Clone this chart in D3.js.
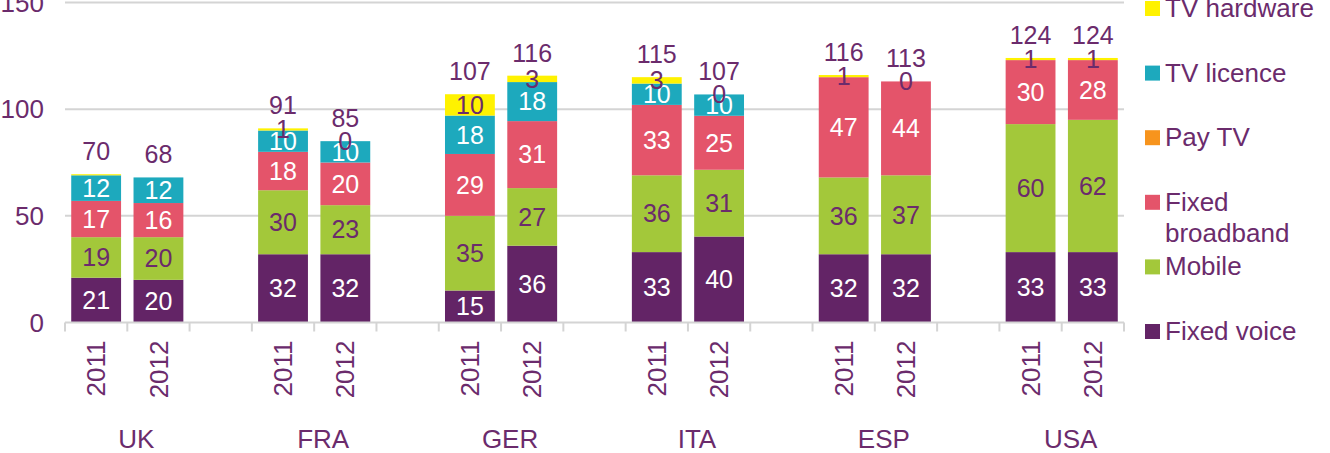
<!DOCTYPE html>
<html>
<head>
<meta charset="utf-8">
<script src="https://cdn.jsdelivr.net/npm/d3@7"></script>
<style>
  body { margin: 0; background: #fff; }
  svg { display: block; font-family: "Liberation Sans", Arial, sans-serif; }
</style>
</head>
<body>
<div id="chart"></div>
<script>
// Chart data
const countries = ['UK', 'FRA', 'GER', 'ITA', 'ESP', 'USA'];
const years = ['2011', '2012'];
const series_names = ['Fixed voice', 'Mobile', 'Fixed broadband', 'Pay TV', 'TV licence', 'TV hardware'];

// one value per bar: UK 2011, UK 2012, FRA 2011, ... USA 2012
const fixed_voice     = [21, 20, 32, 32, 15, 36, 33, 40.3, 32, 32, 33, 33];
const mobile          = [19, 20, 30, 23, 35, 27, 36, 31.3, 36, 37, 60, 62];
const fixed_broadband = [17, 16, 18, 20, 29, 31.4, 33, 25.3, 47, 44, 30, 28];
const pay_tv          = [0, 0, 0, 0, 0, 0, 0, 0, 0, 0, 0, 0];
const tv_licence      = [12, 12, 10, 10, 18, 18.3, 10, 10, 0, 0, 0, 0];
const tv_hardware     = [0.5, 0, 1, 0, 10, 3, 3, 0, 1, 0, 1, 1];
const hardware_labels = ['', '', '1', '0', '10', '3', '3', '0', '1', '0', '1', '1'];
const totals          = [70, 68, 91, 85, 107, 116, 115, 107, 116, 113, 124, 124];

const y_ticks = [0, 50, 100, 150];

// Constants for the look of the chart
const C = {
  width: 1330,
  height: 453,
  plot: {left: 65, right: 1124, top: 2.5, bottom: 322.5},
  font_size: 26,
  label_size: 25,
  text_color: '#6b2b6c',
  grid_color: '#d4d4d4',
  colors: {
    'Fixed voice': '#632466',
    'Mobile': '#a3c83a',
    'Fixed broadband': '#e4546a',
    'Pay TV': '#f7941d',
    'TV licence': '#1da9bd',
    'TV hardware': '#fff200',
  },
  label_colors: {
    'Fixed voice': '#ffffff',
    'Mobile': '#6b2b6c',
    'Fixed broadband': '#ffffff',
    'Pay TV': '#ffffff',
    'TV licence': '#ffffff',
    'TV hardware': '#6b2b6c',
  },
  legend: {x: 1145, first_baseline: 17, step: 64.6, box: 15},
  country_offset: 9,
};

const series_values = {
  'Fixed voice': fixed_voice,
  'Mobile': mobile,
  'Fixed broadband': fixed_broadband,
  'Pay TV': pay_tv,
  'TV licence': tv_licence,
  'TV hardware': tv_hardware,
};

// Build rows for the stack: one per bar
const rows = [];
countries.forEach((country, ci) => {
  years.forEach((year, yi) => {
    const i = ci * 2 + yi;
    const row = {key: country + '|' + year, country, year, i, total: totals[i]};
    series_names.forEach(s => { row[s] = series_values[s][i]; });
    rows.push(row);
  });
});

// Category slots, with an empty slot between countries
const slots = [];
countries.forEach((country, ci) => {
  years.forEach(year => slots.push(country + '|' + year));
  if (ci < countries.length - 1) slots.push(country + '|gap');
});

const X = d3.scaleBand()
  .domain(slots)
  .range([C.plot.left, C.plot.right])
  .paddingInner(0.2)
  .paddingOuter(0.1);

const Y = d3.scaleLinear()
  .domain([0, 150])
  .range([C.plot.bottom, C.plot.top]);

const stacked = d3.stack().keys(series_names)(rows);

const svg = d3.select('#chart').append('svg')
  .attr('width', C.width)
  .attr('height', C.height);

// Gridlines
svg.append('g')
  .selectAll('line')
  .data(y_ticks.filter(d => d > 0))
  .join('line')
  .attr('x1', C.plot.left)
  .attr('x2', C.plot.right)
  .attr('y1', d => Y(d))
  .attr('y2', d => Y(d))
  .attr('stroke', C.grid_color)
  .attr('stroke-width', 2);

// Y axis labels
svg.append('g')
  .selectAll('text')
  .data(y_ticks)
  .join('text')
  .attr('x', C.plot.left - 21)
  .attr('y', d => Y(d))
  .attr('dy', '0.35em')
  .attr('text-anchor', 'end')
  .attr('font-size', C.font_size)
  .attr('fill', C.text_color)
  .text(d => d);

// Stacked bars
const layers = svg.append('g')
  .selectAll('g')
  .data(stacked)
  .join('g')
  .attr('fill', d => C.colors[d.key]);

layers.selectAll('rect')
  .data(d => d)
  .join('rect')
  .attr('x', d => X(d.data.key))
  .attr('width', X.bandwidth())
  .attr('y', d => Y(d[1]))
  .attr('height', d => Y(d[0]) - Y(d[1]));

// X axis line and ticks at slot boundaries
const step = X.step();
const boundaries = slots.map(s => X(s) - step * X.paddingOuter());
boundaries.push(C.plot.right);

const axis = svg.append('g');
axis.append('line')
  .attr('x1', C.plot.left)
  .attr('x2', C.plot.right)
  .attr('y1', Y(0))
  .attr('y2', Y(0))
  .attr('stroke', C.grid_color)
  .attr('stroke-width', 2);

axis.selectAll('line.tick')
  .data(boundaries)
  .join('line')
  .attr('class', 'tick')
  .attr('x1', d => d)
  .attr('x2', d => d)
  .attr('y1', Y(0))
  .attr('y2', Y(0) + 9)
  .attr('stroke', C.grid_color)
  .attr('stroke-width', 2);

// Segment labels (hardware labels handled separately)
const inner_series = ['Fixed voice', 'Mobile', 'Fixed broadband', 'TV licence'];
const labels = svg.append('g')
  .attr('font-size', C.label_size)
  .attr('text-anchor', 'middle');

stacked.filter(layer => inner_series.includes(layer.key)).forEach(layer => {
  labels.append('g')
    .selectAll('text')
    .data(layer.filter(d => d[1] - d[0] > 0))
    .join('text')
    .attr('x', d => X(d.data.key) + X.bandwidth() / 2)
    .attr('y', d => Y((d[0] + d[1]) / 2))
    .attr('dy', '0.35em')
    .attr('fill', C.label_colors[layer.key])
    .text(d => Math.round(d[1] - d[0]));
});

const hardware_layer = stacked.find(layer => layer.key === 'TV hardware');
labels.append('g')
  .selectAll('text')
  .data(hardware_layer.filter(d => hardware_labels[d.data.i] !== ''))
  .join('text')
  .attr('x', d => X(d.data.key) + X.bandwidth() / 2)
  .attr('y', d => Y((d[0] + d[1]) / 2))
  .attr('dy', '0.35em')
  .attr('fill', C.label_colors['TV hardware'])
  .text(d => hardware_labels[d.data.i]);

// Totals above each bar
svg.append('g')
  .selectAll('text')
  .data(rows)
  .join('text')
  .attr('x', d => X(d.key) + X.bandwidth() / 2)
  .attr('y', d => Y(d3.sum(series_names, s => d[s])) - 14)
  .attr('text-anchor', 'middle')
  .attr('font-size', C.label_size)
  .attr('fill', C.text_color)
  .text(d => d.total);

// Year labels, rotated
svg.append('g')
  .selectAll('text')
  .data(rows)
  .join('text')
  .attr('transform', d => `translate(${X(d.key) + X.bandwidth() / 2},${Y(0) + 18}) rotate(-90)`)
  .attr('dy', '0.35em')
  .attr('text-anchor', 'end')
  .attr('font-size', C.font_size)
  .attr('fill', C.text_color)
  .text(d => d.year);

// Country labels
svg.append('g')
  .selectAll('text')
  .data(countries)
  .join('text')
  .attr('x', d => (X(d + '|2011') + X(d + '|2012') + X.bandwidth()) / 2 + C.country_offset)
  .attr('y', 448)
  .attr('text-anchor', 'middle')
  .attr('font-size', C.font_size)
  .attr('fill', C.text_color)
  .text(d => d);

// Legend, top to bottom in reverse stack order
const legend_items = series_names.slice().reverse();
const legend = svg.append('g')
  .selectAll('g')
  .data(legend_items)
  .join('g')
  .attr('transform', (d, i) => `translate(${C.legend.x},${C.legend.first_baseline + i * C.legend.step})`);

legend.append('rect')
  .attr('x', 0)
  .attr('y', -C.legend.box - 1)
  .attr('width', C.legend.box)
  .attr('height', C.legend.box)
  .attr('fill', d => C.colors[d]);

legend.append('text')
  .attr('x', C.legend.box + 5)
  .attr('font-size', C.font_size)
  .attr('fill', C.text_color)
  .each(function(d){
    const words = d === 'Fixed broadband' ? ['Fixed', 'broadband'] : [d];
    d3.select(this).selectAll('tspan')
      .data(words)
      .join('tspan')
      .attr('x', C.legend.box + 5)
      .attr('dy', (w, j) => j === 0 ? 0 : 31)
      .text(w => w);
  });
</script>
</body>
</html>
